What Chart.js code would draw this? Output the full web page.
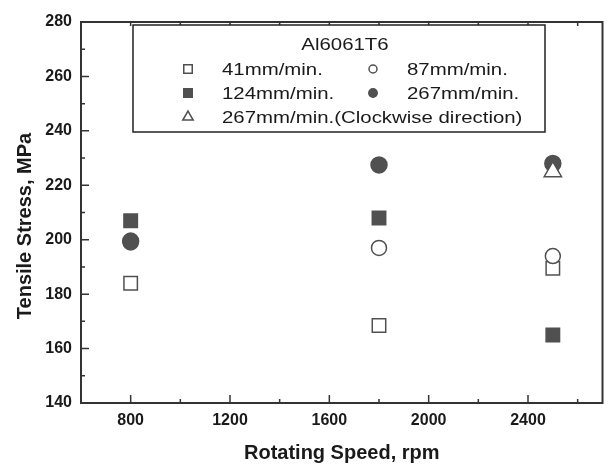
<!DOCTYPE html>
<html>
<head>
<meta charset="utf-8">
<script src="https://cdn.jsdelivr.net/npm/chart.js@4.4.1/dist/chart.umd.min.js"></script>
<style>
  html, body { margin: 0; padding: 0; background: #fff; }
  #wrap { width: 614px; height: 468px; }
</style>
</head>
<body>
<div id="wrap"><canvas id="chart" width="614" height="468"></canvas></div>
<script>
// rotating speed (rpm) and tensile stress (MPa) per traverse speed
const speeds = [800, 1800, 2500];
const stress41 = [184, 168.5, 189.5];
const stress87 = [199, 197, 194];
const stress124 = [207, 208, 165];
const stress267 = [199.5, 227.5, 228];
const stress267cw = [null, null, 225];

const seriesNames = ['41mm/min.', '87mm/min.', '124mm/min.', '267mm/min.', '267mm/min.(Clockwise direction)'];
const legendTitle = 'Al6061T6';
const xTickValues = [800, 1200, 1600, 2000, 2400];
const yTickValues = [140, 160, 180, 200, 220, 240, 260, 280];

const dark = '#505050';
const axisColor = '#333';
const textColor = '#1a1a1a';

function toPoints(values) {
  return speeds.map((x, i) => ({ x: x, y: values[i] })).filter(p => p.y !== null);
}

const markers = [
  { style: 'rect', fill: '#fff', radius: 9.5, legendRadius: 6 },
  { style: 'circle', fill: '#fff', radius: 7.5, legendRadius: 4 },
  { style: 'rect', fill: dark, radius: 9.5, legendRadius: 6 },
  { style: 'circle', fill: dark, radius: 8, legendRadius: 4.2 },
  { style: 'triangle', fill: '#fff', radius: 10, legendRadius: 6 }
];
const seriesData = [stress41, stress87, stress124, stress267, stress267cw];
const drawOrder = [4, 2, 3, 1, 0];

const datasets = seriesData.map((vals, i) => ({
  label: seriesNames[i],
  data: toPoints(vals),
  pointStyle: markers[i].style,
  pointRadius: markers[i].radius,
  pointHoverRadius: markers[i].radius,
  backgroundColor: markers[i].fill,
  borderColor: dark,
  pointBorderWidth: 1.5,
  order: drawOrder[i]
}));

// frame, inward ticks, axis titles and the boxed legend
const decorPlugin = {
  id: 'decor',
  afterDraw(chart) {
    const { ctx, chartArea: a, scales: { x, y } } = chart;
    ctx.save();
    ctx.strokeStyle = axisColor;
    ctx.lineWidth = 2;
    ctx.strokeRect(a.left, a.top, a.right - a.left, a.bottom - a.top);

    ctx.lineWidth = 1.5;
    ctx.beginPath();
    for (let v = 800; v <= 2600; v += 200) {
      const px = x.getPixelForValue(v);
      const len = v % 400 === 0 ? 8 : 4;
      ctx.moveTo(px, a.bottom); ctx.lineTo(px, a.bottom - len);
      ctx.moveTo(px, a.top); ctx.lineTo(px, a.top + 4);
    }
    for (let v = 150; v <= 270; v += 10) {
      const py = y.getPixelForValue(v);
      const len = v % 20 === 0 ? 8 : 4;
      ctx.moveTo(a.left, py); ctx.lineTo(a.left + len, py);
    }
    ctx.stroke();

    // axis titles
    ctx.fillStyle = textColor;
    ctx.font = 'bold 20px "Liberation Sans", Arial, sans-serif';
    ctx.textAlign = 'center';
    ctx.textBaseline = 'middle';
    ctx.fillText('Rotating Speed, rpm', (a.left + a.right) / 2, 453);
    ctx.save();
    ctx.translate(25, 226);
    ctx.rotate(-Math.PI / 2);
    ctx.fillText('Tensile Stress, MPa', 0, 0);
    ctx.restore();

    // legend box
    const box = { left: 133, top: 25, right: 545, bottom: 132 };
    ctx.fillStyle = '#fff';
    ctx.fillRect(box.left, box.top, box.right - box.left, box.bottom - box.top);
    ctx.strokeStyle = '#222';
    ctx.lineWidth = 1.5;
    ctx.strokeRect(box.left, box.top, box.right - box.left, box.bottom - box.top);

    const sx = 1.2;
    const drawText = (t, px, py, align) => {
      ctx.save();
      ctx.translate(px, py);
      ctx.scale(sx, 1);
      ctx.textAlign = align;
      ctx.textBaseline = 'middle';
      ctx.fillStyle = textColor;
      ctx.font = '17px "Liberation Sans", Arial, sans-serif';
      ctx.fillText(t, 0, 0);
      ctx.restore();
    };
    drawText(legendTitle, 345, 45, 'center');

    const slots = [
      { mx: 188, tx: 222, y: 69 },
      { mx: 373, tx: 407, y: 69 },
      { mx: 188, tx: 222, y: 93 },
      { mx: 373, tx: 407, y: 93 },
      { mx: 188, tx: 222, y: 117 }
    ];
    slots.forEach((s, i) => {
      ctx.fillStyle = markers[i].fill;
      ctx.strokeStyle = dark;
      ctx.lineWidth = 1.5;
      Chart.helpers.drawPoint(ctx, { pointStyle: markers[i].style, radius: markers[i].legendRadius, borderWidth: 1.5, rotation: 0 }, s.mx, s.y);
      drawText(seriesNames[i], s.tx, s.y + 1, 'left');
    });
    ctx.restore();
  }
};

new Chart(document.getElementById('chart'), {
  type: 'scatter',
  data: { datasets: datasets },
  options: {
    responsive: false,
    animation: false,
    devicePixelRatio: 1,
    layout: { padding: { top: 22, right: 10, left: 0, bottom: 0 } },
    plugins: {
      legend: { display: false },
      tooltip: { enabled: false }
    },
    scales: {
      x: {
        type: 'linear',
        min: 600,
        max: 2700,
        afterFit: s => { s.height = 65; },
        afterBuildTicks: s => { s.ticks = xTickValues.map(v => ({ value: v })); },
        grid: { display: false, drawTicks: false },
        border: { display: false },
        ticks: {
          padding: 8,
          color: textColor,
          callback: v => String(v),
          font: { family: '"Liberation Sans", Arial, sans-serif', size: 16, weight: 'bold' }
        }
      },
      y: {
        min: 140,
        max: 280,
        afterFit: s => { s.width = 81; },
        afterBuildTicks: s => { s.ticks = yTickValues.map(v => ({ value: v })); },
        grid: { display: false, drawTicks: false },
        border: { display: false },
        ticks: {
          padding: 9,
          color: textColor,
          callback: v => String(v),
          font: { family: '"Liberation Sans", Arial, sans-serif', size: 16, weight: 'bold' }
        }
      }
    }
  },
  plugins: [decorPlugin]
});
</script>
</body>
</html>
